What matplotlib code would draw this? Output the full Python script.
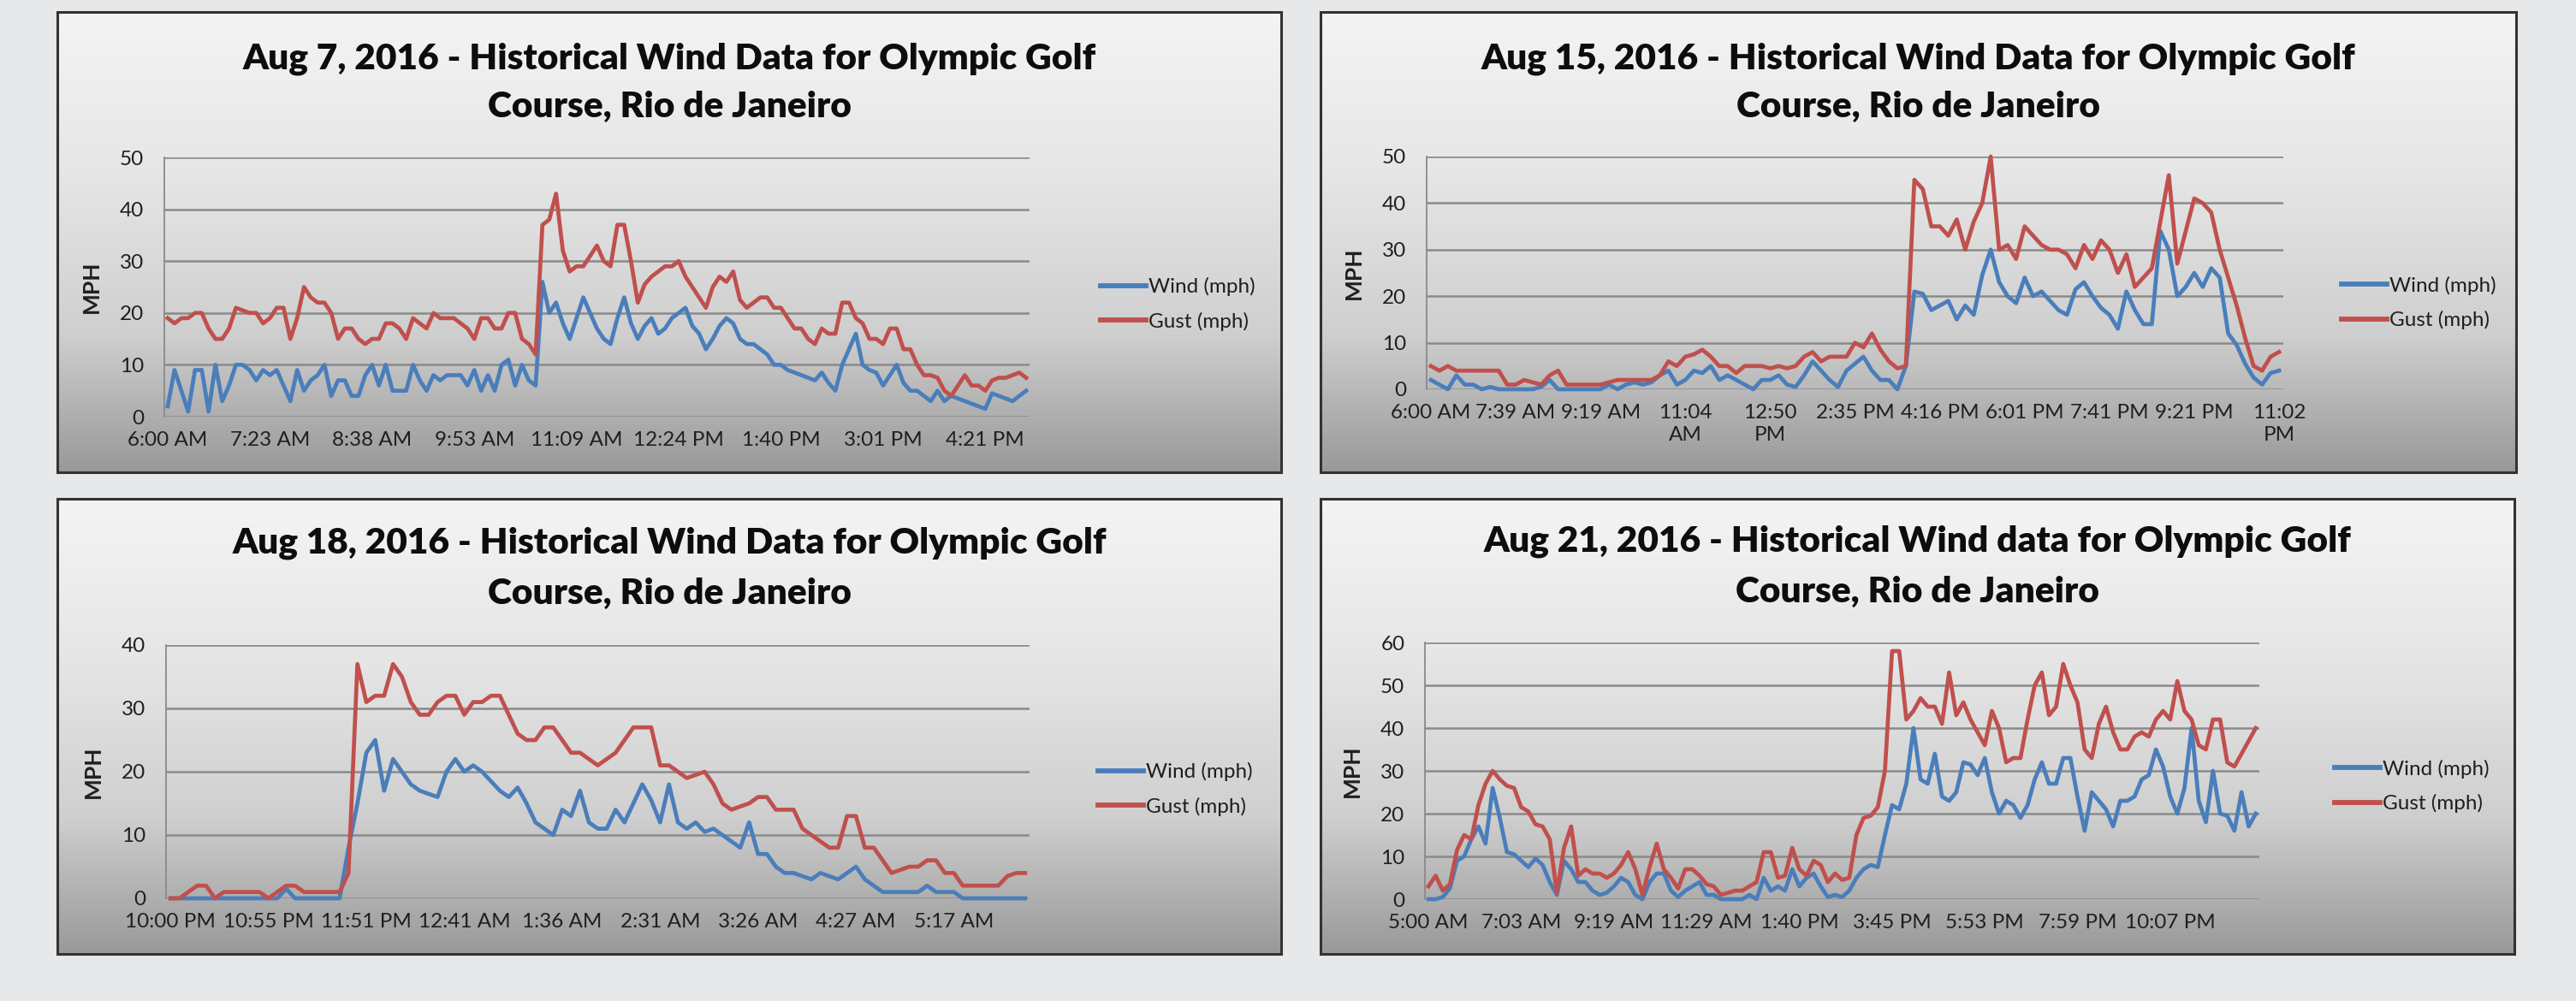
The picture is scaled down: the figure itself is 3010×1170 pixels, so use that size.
import numpy as np
import matplotlib
matplotlib.use('Agg')
import matplotlib.pyplot as plt
from matplotlib.colors import LinearSegmentedColormap
from matplotlib.patches import Rectangle

plt.rcParams['font.family'] = ['Lato', 'DejaVu Sans']

# ------------------------------------------------------------------ data
aug7_labels = ['6:00 AM', '7:23 AM', '8:38 AM', '9:53 AM', '11:09 AM',
               '12:24 PM', '1:40 PM', '3:01 PM', '4:21 PM']
aug7_wind = [2, 9, 5, 1, 9, 9, 1, 10, 3, 6, 10, 10, 9, 7, 9, 8, 9, 6, 3, 9,
             5, 7, 8, 10, 4, 7, 7, 4, 4, 8, 10, 6, 10, 5, 5, 5, 10, 7, 5, 8,
             7, 8, 8, 8, 6, 9, 5, 8, 5, 10, 11, 6, 10, 7, 6, 26, 20, 22, 18, 15,
             19, 23, 20, 17, 15, 14, 19, 23, 18, 15, 17.5, 19, 16, 17, 19, 20, 21, 17.5, 16, 13,
             15, 17.5, 19, 18, 15, 14, 14, 13, 12, 10, 10, 9, 8.5, 8, 7.5, 7, 8.5, 6.5, 5, 10,
             13, 16, 10, 9, 8.5, 6, 8, 10, 6.5, 5, 5, 4, 3, 5, 3, 4, 3.5, 3, 2.5, 2,
             1.5, 4.5, 4, 3.5, 3, 4, 5]
aug7_gust = [19, 18, 19, 19, 20, 20, 17, 15, 15, 17, 21, 20.5, 20, 20, 18, 19, 21, 21, 15, 19,
             25, 23, 22, 22, 20, 15, 17, 17, 15, 14, 15, 15, 18, 18, 17, 15, 19, 18, 17, 20,
             19, 19, 19, 18, 17, 15, 19, 19, 17, 17, 20, 20, 15, 14, 12, 37, 38, 43, 32, 28,
             29, 29, 31, 33, 30, 29, 37, 37, 30, 22, 25.5, 27, 28, 29, 29, 30, 27, 25, 23, 21,
             25, 27, 26, 28, 22.5, 21, 22, 23, 23, 21, 21, 19, 17, 17, 15, 14, 17, 16, 16, 22,
             22, 19, 18, 15, 15, 14, 17, 17, 13, 13, 10, 8, 8, 7.5, 5, 4, 6, 8, 6, 6,
             5, 7, 7.5, 7.5, 8, 8.5, 7.5]

aug15_labels = ['6:00 AM', '7:39 AM', '9:19 AM', '11:04\nAM', '12:50\nPM', '2:35 PM',
                '4:16 PM', '6:01 PM', '7:41 PM', '9:21 PM', '11:02\nPM']
aug15_wind = [2, 1, 0, 3, 1, 1, 0, 0.5, 0, 0, 0, 0, 0, 0.5, 2, 0, 0, 0, 0, 0,
              0, 1, 0, 1, 1.5, 1, 1.5, 3, 4, 1, 2, 4, 3.5, 5, 2, 3, 2, 1, 0, 2,
              2, 3, 1, 0.5, 3, 6, 4, 2, 0.5, 4, 5.5, 7, 4, 2, 2, 0, 5, 21, 20.5, 17,
              18, 19, 15, 18, 16, 24.5, 30, 23, 20, 18.5, 24, 20, 21, 19, 17, 16, 21.5, 23, 20, 17.5,
              16, 13, 21, 17, 14, 14, 34, 30, 20, 22, 25, 22, 26, 24, 12, 9.5, 5.5, 2.5, 1, 3.5,
              4]
aug15_gust = [5, 4, 5, 4, 4, 4, 4, 4, 4, 1, 1, 2, 1.5, 1, 3, 4, 1, 1, 1, 1,
              1, 1.5, 2, 2, 2, 2, 2, 3, 6, 5, 7, 7.5, 8.5, 7, 5, 5, 3.5, 5, 5, 5,
              4.5, 5, 4.5, 5, 7, 8, 6, 7, 7, 7, 10, 9, 12, 8.5, 6, 4.5, 5, 45, 43, 35,
              35, 33, 36.5, 30, 36, 40, 50, 30, 31, 28, 35, 33, 31, 30, 30, 29, 26, 31, 28, 32,
              30, 25, 29, 22, 24, 26, 36, 46, 27, 34, 41, 40, 38, 30, 24, 18, 11, 5, 4, 7,
              8]

aug18_labels = ['10:00 PM', '10:55 PM', '11:51 PM', '12:41 AM', '1:36 AM',
                '2:31 AM', '3:26 AM', '4:27 AM', '5:17 AM']
aug18_wind = [0, 0, 0, 0, 0, 0, 0, 0, 0, 0, 0, 0, 0, 1.5, 0, 0, 0, 0, 0, 0,
              8, 15, 23, 25, 17, 22, 20, 18, 17, 16.5, 16, 20, 22, 20, 21, 20, 18.5, 17, 16, 17.5,
              15, 12, 11, 10, 14, 13, 17, 12, 11, 11, 14, 12, 15, 18, 15.5, 12, 18, 12, 11, 12,
              10.5, 11, 10, 9, 8, 12, 7, 7, 5, 4, 4, 3.5, 3, 4, 3.5, 3, 4, 5, 3, 2,
              1, 1, 1, 1, 1, 2, 1, 1, 1, 0, 0, 0, 0, 0, 0, 0, 0]
aug18_gust = [0, 0, 1, 2, 2, 0, 1, 1, 1, 1, 1, 0, 1, 2, 2, 1, 1, 1, 1, 1,
              4, 37, 31, 32, 32, 37, 35, 31, 29, 29, 31, 32, 32, 29, 31, 31, 32, 32, 29, 26,
              25, 25, 27, 27, 25, 23, 23, 22, 21, 22, 23, 25, 27, 27, 27, 21, 21, 20, 19, 19.5,
              20, 18, 15, 14, 14.5, 15, 16, 16, 14, 14, 14, 11, 10, 9, 8, 8, 13, 13, 8, 8,
              6, 4, 4.5, 5, 5, 6, 6, 4, 4, 2, 2, 2, 2, 2, 3.5, 4, 4]

aug21_labels = ['5:00 AM', '7:03 AM', '9:19 AM', '11:29 AM', '1:40 PM',
                '3:45 PM', '5:53 PM', '7:59 PM', '10:07 PM']
aug21_wind = [0, 0, 0.5, 2.5, 9, 10, 14, 17, 13, 26, 19, 11, 10.5, 9, 7.5, 9.5, 8, 4, 1, 9,
              7, 4, 4, 2, 1, 1.5, 3, 5, 4, 1, 0, 4, 6, 6, 2, 0.5, 2, 3, 4, 1,
              1, 0, 0, 0, 0, 1, 0, 5, 2, 3, 2, 7, 3, 5, 6, 3, 0.5, 1, 0.5, 2,
              5, 7, 8, 7.5, 15, 22, 21, 27, 40, 28, 27, 34, 24, 23, 25, 32, 31.5, 29, 33, 25,
              20, 23, 22, 19, 22, 28, 32, 27, 27, 33, 33, 24, 16, 25, 23, 21, 17, 23, 23, 24,
              28, 29, 35, 31, 24, 20, 26, 40, 23, 18, 30, 20, 19.5, 16, 25, 17, 20]
aug21_gust = [3, 5.5, 2, 3.5, 11.5, 15, 14, 22, 27, 30, 28, 26.5, 26, 21.5, 20.5, 17.5, 17, 14, 1.5, 12,
              17, 5.5, 7, 6, 6, 5, 6, 8, 11, 7, 1, 7.5, 13, 7, 5, 2.5, 7, 7, 5.5, 3.5,
              3, 1, 1.5, 2, 2, 3, 4, 11, 11, 5, 5.5, 12, 7, 5.5, 9, 8, 4, 6, 4.5, 5,
              15, 19, 19.5, 21.5, 30, 58, 58, 42, 44, 47, 45, 45, 41, 53, 43, 46, 42, 39, 36, 44,
              40, 32, 33, 33, 42, 50, 53, 43, 45, 55, 50, 46, 35, 33, 41, 45, 39, 35, 35, 38,
              39, 38, 42, 44, 42, 51, 44, 42, 36, 35, 42, 42, 32, 31, 34, 37, 40]

series_names = ['Wind (mph)', 'Gust (mph)']
titles = [
    ['Aug 7, 2016 - Historical Wind Data for Olympic Golf', 'Course, Rio de Janeiro'],
    ['Aug 15, 2016 - Historical Wind Data for Olympic Golf', 'Course, Rio de Janeiro'],
    ['Aug 18, 2016 - Historical Wind Data for Olympic Golf', 'Course, Rio de Janeiro'],
    ['Aug 21, 2016 - Historical Wind data for Olympic Golf', 'Course, Rio de Janeiro'],
]

# ------------------------------------------------------------------ layout
W, H, DPI = 3010, 1170, 100
BLUE = '#4a7ebb'
RED = '#c0504d'
GRID = '#8a8a8a'

fig = plt.figure(figsize=(W / DPI, H / DPI), dpi=DPI)
fig.patch.set_facecolor('#e7e8ea')


def rect(x0, y0, x1, y1):
    return [x0 / W, 1 - y1 / H, (x1 - x0) / W, (y1 - y0) / H]


grad = LinearSegmentedColormap.from_list(
    'g', [(0, '#f4f4f4'), (0.35, '#e6e6e6'), (0.7, '#cfcfcf'), (1, '#999999')])

panels = [
    dict(box=(67, 14, 1497, 552), plot=(192, 184, 1203, 487), base=(80, 137),
         wind=aug7_wind, gust=aug7_gust, labels=aug7_labels, step=15, ymax=50,
         leg=(1286, 331, 380)),
    dict(box=(1543, 14, 2940, 552), plot=(1667, 183, 2668, 455), base=(80, 137),
         wind=aug15_wind, gust=aug15_gust, labels=aug15_labels, step=10, ymax=50,
         leg=(2736, 330, 378)),
    dict(box=(67, 583, 1497, 1115), plot=(194, 754, 1203, 1050), base=(647, 706),
         wind=aug18_wind, gust=aug18_gust, labels=aug18_labels, step=11, ymax=40,
         leg=(1283, 898, 947)),
    dict(box=(1543, 583, 2938, 1115), plot=(1665, 751, 2640, 1051), base=(645, 704),
         wind=aug21_wind, gust=aug21_gust, labels=aug21_labels, step=13, ymax=60,
         leg=(2728, 895, 943)),
]

for p, ttl in zip(panels, titles):
    bx0, by0, bx1, by1 = p['box']
    bg = fig.add_axes(rect(*p['box']))
    bg.set_axis_off()
    bg.imshow(np.linspace(0, 1, 256)[:, None], cmap=grad, aspect='auto',
              extent=(0, 1, 0, 1), zorder=0)
    bg.set_xlim(0, 1)
    bg.set_ylim(0, 1)
    bg.add_patch(Rectangle((0, 0), 1, 1, transform=bg.transAxes, fill=False,
                           ec='#333333', lw=2.2, clip_on=False))

    cx = (bx0 + bx1) / 2
    for line, b in zip(ttl, p['base']):
        fig.text(cx / W, 1 - b / H, line, ha='center', va='baseline',
                 fontsize=30.5, fontweight='heavy', color='#0d0d0d')

    px0, py0, px1, py1 = p['plot']
    ax = fig.add_axes(rect(*p['plot']))
    ax.set_facecolor('none')
    n = len(p['wind'])
    x = np.arange(n)
    ax.plot(x, p['wind'], color=BLUE, lw=3.4, label=series_names[0],
            solid_joinstyle='round', clip_on=False)
    ax.plot(x, p['gust'], color=RED, lw=3.4, label=series_names[1],
            solid_joinstyle='round', clip_on=False)
    ax.set_xlim(-0.5, n - 0.5)
    ax.set_ylim(0, p['ymax'])
    ax.set_yticks(range(0, p['ymax'] + 1, 10))
    ax.set_xticks(range(0, n, p['step']))
    ax.set_xticklabels(p['labels'], linespacing=1.3)
    ax.yaxis.grid(True, color=GRID, lw=1.8)
    ax.set_axisbelow(True)
    for s in ['top', 'right', 'bottom']:
        ax.spines[s].set_visible(False)
    ax.spines['left'].set_color(GRID)
    ax.spines['left'].set_linewidth(1.3)
    ax.tick_params(axis='x', length=0, pad=12, labelsize=17.5, labelcolor='#1f1f1f')
    ax.tick_params(axis='y', length=0, pad=17, labelsize=17.5, labelcolor='#1f1f1f')
    ax.set_ylabel('MPH', fontsize=19, fontweight='bold', color='#1f1f1f')
    ax.yaxis.set_label_coords(-73 / (px1 - px0), 0.5)

    lx, ly1, ly2 = p['leg']
    leg = ax.legend(loc='center left', bbox_to_anchor=(lx / W, 1 - ((ly1 + ly2) / 2) / H),
                    bbox_transform=fig.transFigure, frameon=False, fontsize=17.5,
                    handlelength=2.2, handletextpad=0.12, labelspacing=0.75,
                    borderpad=0, borderaxespad=0)
    for t in leg.get_texts():
        t.set_color('#1f1f1f')
    for l in leg.get_lines():
        l.set_linewidth(4.2)

fig.savefig('out.png', dpi=DPI, facecolor=fig.get_facecolor())
